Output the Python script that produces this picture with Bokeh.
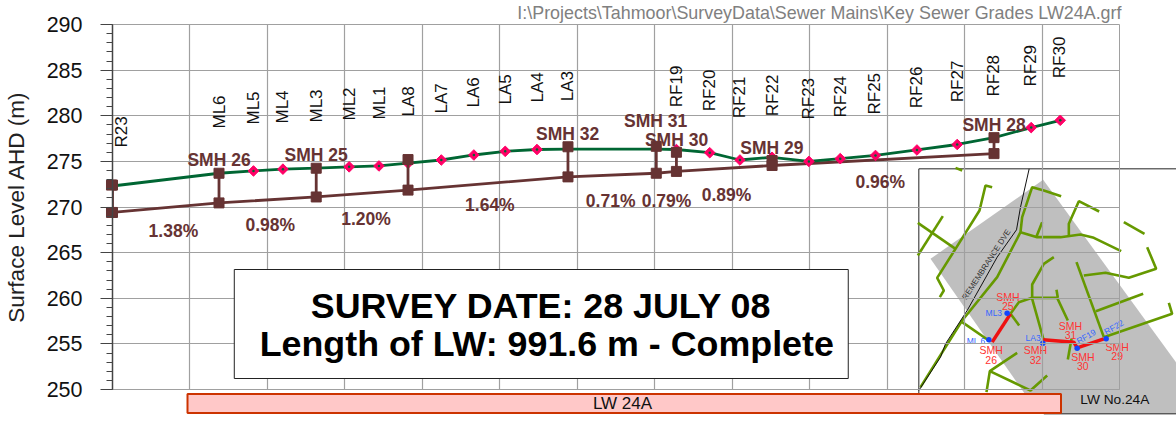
from math import pi
from bokeh.plotting import figure
from bokeh.embed import file_html
from bokeh.resources import INLINE
from bokeh.core.properties import value
from bokeh.models import Range1d, FixedTicker, Label

FONT = "Liberation Sans"
BROWN = "#663333"
GREEN = "#006633"
PINK = "#ff0066"
GRID = "#a0a0a0"

# Survey line (chainage m, level m AHD)
surface_chain = [0, 275, 364, 440, 526, 611, 688, 763, 849, 933, 1014, 1096, 1176, 1404, 1456,
                 1542, 1620, 1703, 1798, 1879, 1970, 2077, 2181, 2276, 2372, 2447]
surface_level = [272.3, 273.7, 273.95, 274.15, 274.25, 274.4, 274.5, 274.8, 275.15, 275.7, 276.1, 276.3,
                 276.35, 276.35, 276.3, 275.95, 275.15, 275.45, 275.0, 275.3, 275.65, 276.25, 276.85,
                 277.6, 278.7, 279.5]
peg_chain = [364, 440, 611, 688, 763, 849, 933, 1014, 1096, 1456, 1542, 1620, 1703, 1798, 1879, 1970,
             2077, 2181, 2372, 2447]
peg_level = [273.95, 274.15, 274.4, 274.5, 274.8, 275.15, 275.7, 276.1, 276.3, 276.3, 275.95, 275.15,
             275.45, 275.0, 275.3, 275.65, 276.25, 276.85, 278.7, 279.5]
smh_chain = [0, 275, 526, 763, 1176, 1404, 1456, 1703, 2276]
smh_top = [272.4, 273.7, 274.25, 275.2, 276.6, 276.65, 276.0, 275.1, 277.6]
smh_invert = [269.4, 270.45, 271.1, 271.85, 273.3, 273.7, 273.9, 274.55, 275.85]

y_ticks = [250, 255, 260, 265, 270, 275, 280, 285, 290]
x_grid = [200, 400, 600, 800, 1000, 1200, 1400, 1600, 1800, 2000, 2200, 2400, 2600]

# Text labels
station_names = ["R23", "ML6", "ML5", "ML4", "ML3", "ML2", "ML1", "LA8", "LA7", "LA6", "LA5", "LA4", "LA3",
                 "RF19", "RF20", "RF21", "RF22", "RF23", "RF24", "RF25", "RF26", "RF27", "RF28", "RF29", "RF30"]
station_px = [120, 218, 252.5, 281.5, 315, 348, 378, 407, 440.7, 473, 504.7, 536.7, 567,
              676, 709, 739, 771.7, 807.7, 840, 874.7, 916.7, 957, 993.7, 1030.7, 1060]
station_py = [147, 128, 124, 123, 122, 120, 119, 116, 113, 107, 104, 102, 100.7,
              106.7, 110.7, 117.7, 115.7, 119, 117, 114, 107.7, 101.7, 96, 86, 77.7]
smh_names = ["SMH 26", "SMH 25", "SMH 32", "SMH 31", "SMH 30", "SMH 29", "SMH 28"]
smh_px = [217.7, 315, 567, 655, 676, 771.5, 994]
smh_py = [159.5, 154, 133, 120, 139, 147, 124]
grade_names = ["1.38%", "0.98%", "1.20%", "1.64%", "0.71%", "0.79%", "0.89%", "0.96%"]
grade_px = [172, 269, 365, 489, 610, 666, 726, 880]
grade_py = [230, 224, 218, 204, 200, 200, 194, 181]

# Inset map geometry (map units)
map_frame_x = [25, 25, 800]
map_frame_y = [760, 25, 25]
map_base_x = [400, 800]
map_base_y = [760, 760]
map_area = ([398, 800, 800, 385, 60], [58, 610, 760, 760, 295])
map_roads = [
    [(135, 22), (155, 30)],
    [(245, 80), (225, 75), (207, 150), (135, 265), (80, 352), (100, 390), (88, 410)],
    [(22, 187), (135, 265)],
    [(22, 285), (97, 167)],
    [(452, 107), (400, 90), (365, 80), (335, 170), (330, 215), (260, 350), (155, 480), (30, 680)],
    [(330, 215), (380, 230), (450, 230), (510, 222), (550, 232), (632, 272)],
    [(378, 228), (395, 185)],
    [(566, 153), (505, 122), (475, 190), (475, 225)],
    [(640, 185), (702, 220)],
    [(710, 260), (737, 325), (655, 352), (585, 337), (520, 345)],
    [(498, 305), (580, 530)],
    [(556, 452), (698, 400)],
    [(580, 530), (785, 460), (775, 427)],
    [(430, 290), (400, 310), (365, 372), (365, 415), (400, 540)],
    [(300, 460), (325, 425), (365, 412), (440, 412), (472, 480)],
    [(438, 388), (442, 412)],
    [(300, 460), (326, 495)],
    [(155, 485), (235, 540)],
    [(320, 577), (238, 632), (228, 695)],
    [(238, 632), (360, 690), (410, 645)],
    [(483, 535), (472, 597)],
]
map_street = [(356, 25), (330, 140), (318, 208), (260, 290), (170, 450), (105, 550), (90, 590), (25, 690)]
map_sewer = [[(300, 460), (245, 545)], [(398, 538), (490, 545), (500, 562), (580, 535)]]
map_pts_x = [290, 235, 397, 500, 587]
map_pts_y = [458, 538, 548, 563, 535]
map_red_text = ["SMH", "25", "SMH", "26", "SMH", "32", "SMH", "31", "SMH", "30", "SMH", "29"]
map_red_x = [292, 292, 242, 242, 375, 375, 480, 480, 517, 517, 620, 620]
map_red_y = [410, 437, 568, 598, 568, 598, 495, 523, 588, 616, 558, 586]
map_blue = [("ML3", 250, 458, 0), ("ML 6", 197, 542, 0), ("LA3", 368, 533, 0), ("RF19", 527, 528, 30),
            ("RF22", 610, 500, 30)]

# ======== back layer: inset map, panel bar, file name ========
bg = figure(width=1176, height=421, output_backend="svg", toolbar_location=None,
            x_axis_location=None, y_axis_location=None,
            x_range=Range1d(-2730, 798), y_range=Range1d(783, -480),
            min_border=0, outline_line_color=None, background_fill_color="white", border_fill_color="white")
bg.grid.visible = False
bg.extra_x_ranges = {"page": Range1d(0, 1176), "chart": Range1d(-286.1, 2745.1)}
bg.extra_y_ranges = {"page": Range1d(421, 0), "chart": Range1d(246.49, 292.63)}
bg.styles = {"position": "absolute", "left": "0px", "top": "0px", "z-index": "0"}

bg.patch(map_area[0], map_area[1], fill_color="#bfbfbf", line_color=None)
bg.line(map_frame_x, map_frame_y, line_color="#222222", line_width=1)
bg.line(map_base_x, map_base_y, line_color="#222222", line_width=1)
bg.multi_line([[q[0] for q in r] for r in map_roads], [[q[1] for q in r] for r in map_roads],
              line_color="#669900", line_width=2.6)
bg.line([q[0] for q in map_street], [q[1] for q in map_street], line_color="#111111", line_width=1)
bg.multi_line([[q[0] for q in r] for r in map_sewer], [[q[1] for q in r] for r in map_sewer],
              line_color="#ee1111", line_width=3.5)
bg.scatter(map_pts_x, map_pts_y, marker="circle", size=5.5, fill_color="#1144ff", line_color=None)
bg.text(map_red_x, map_red_y, text=map_red_text, text_font=value(FONT), text_font_size="10.5px",
        text_color="#ff3333", text_align="center", text_baseline="middle")
for (t, mx, my, ang) in map_blue:
    bg.add_layout(Label(x=mx, y=my, text=t, text_color="#3366ff", text_font=FONT, text_font_size="8.5px",
                        text_align="center", text_baseline="middle", angle=ang, angle_units="deg"))
bg.add_layout(Label(x=228, y=312, text="REMEMBRANCE DVE", text_color="#333333", text_font=FONT,
                    text_font_size="8px", text_align="center", text_baseline="middle", angle=57,
                    angle_units="deg"))
bg.add_layout(Label(x=613, y=718, text="LW No.24A", text_color="#111111", text_font=FONT,
                    text_font_size="13.7px", text_align="center", text_baseline="middle"))

PB = dict(x_range_name="page", y_range_name="page")
bg.quad(left=[187], right=[1060.5], top=[393.5], bottom=[412.5], fill_color="#ffc8c8",
        line_color="#cc3300", line_width=2, **PB)
bg.text([622], [403], text=["LW 24A"], text_font=value(FONT), text_font_size="17px", text_color="#111111",
        text_align="center", text_baseline="middle", **PB)
bg.text([1121], [12], text=["I:\\Projects\\Tahmoor\\SurveyData\\Sewer Mains\\Key Sewer Grades LW24A.grf"],
        text_font=value(FONT), text_font_size="17.9px", text_color="#808080", text_align="right",
        text_baseline="middle", **PB)
# the start manhole straddles the axis, so its squares are drawn here, free of the chart's frame
bg.scatter(smh_chain[:1], smh_top[:1], marker="square", size=10, fill_color=BROWN, line_color=BROWN,
           x_range_name="chart", y_range_name="chart")
bg.scatter(smh_chain[:1], smh_invert[:1], marker="square", size=10, fill_color=BROWN, line_color=BROWN,
           x_range_name="chart", y_range_name="chart")

# ======== front layer: the chart itself ========
p = figure(width=1176, height=421, output_backend="svg", toolbar_location=None,
           x_range=Range1d(0, 2600), y_range=Range1d(250, 290),
           min_border_left=110, min_border_right=57, min_border_top=24, min_border_bottom=32,
           background_fill_color=None, border_fill_color=None)
p.styles = {"position": "absolute", "left": "0px", "top": "0px", "z-index": "1"}
p.outline_line_color = GRID
p.outline_line_width = 1
p.extra_x_ranges = {"page": Range1d(111, 1119.7)}
p.extra_y_ranges = {"page": Range1d(389, 24)}

ya = p.yaxis[0]
ya.ticker = FixedTicker(ticks=y_ticks, minor_ticks=[v for v in range(250, 291)])
ya.axis_label = "Surface Level AHD (m)"
ya.axis_label_text_font = FONT
ya.axis_label_text_font_style = "normal"
ya.axis_label_text_font_size = "22.5px"
ya.axis_label_text_color = "#222222"
ya.axis_label_standoff = 15
ya.major_label_text_font = FONT
ya.major_label_text_font_size = "21.5px"
ya.major_label_text_color = "#111111"
ya.major_label_standoff = 18
ya.major_tick_out = 12
ya.major_tick_in = 0
ya.minor_tick_out = 6
ya.minor_tick_in = 0
ya.major_tick_line_color = "#444444"
ya.minor_tick_line_color = "#444444"
ya.axis_line_color = "#444444"
ya.axis_line_width = 1.5

xa = p.xaxis[0]
xa.ticker = FixedTicker(ticks=x_grid)
xa.major_label_text_color = None
xa.major_label_text_font_size = "1px"
xa.major_label_standoff = 0
xa.major_tick_line_color = None
xa.minor_tick_line_color = None
xa.axis_line_color = GRID

p.ygrid[0].ticker = FixedTicker(ticks=y_ticks)
p.xgrid[0].ticker = FixedTicker(ticks=x_grid)
for g in (p.xgrid[0], p.ygrid[0]):
    g.grid_line_color = GRID
    g.grid_line_width = 1.2

p.line(smh_chain, smh_invert, line_color=BROWN, line_width=2.8)
p.line(surface_chain, surface_level, line_color=GREEN, line_width=2.8)
p.scatter(peg_chain, peg_level, marker="square", angle=pi / 4, size=7.5, fill_color=PINK, line_color=PINK)
p.scatter(peg_chain, peg_level, marker="circle", size=2.5, fill_color=GREEN, line_color=None)
p.segment(smh_chain, smh_top, smh_chain, smh_invert, line_color=BROWN, line_width=2.8)
p.scatter(smh_chain, smh_top, marker="square", size=10, fill_color=BROWN, line_color=BROWN)
p.scatter(smh_chain, smh_invert, marker="square", size=10, fill_color=BROWN, line_color=BROWN)

PG = dict(x_range_name="page", y_range_name="page")
p.text(station_px, station_py, text=station_names, angle=pi / 2, text_font=value(FONT),
       text_font_size="17px", text_color="#111111", text_align="left", text_baseline="middle", **PG)
p.text(smh_px, smh_py, text=smh_names, text_font=value(FONT), text_font_style="bold",
       text_font_size="17.5px", text_color=BROWN, text_align="center", text_baseline="middle", **PG)
p.text(grade_px, grade_py, text=grade_names, text_font=value(FONT), text_font_style="bold",
       text_font_size="17.5px", text_color=BROWN, text_align="center", text_baseline="middle", **PG)

p.quad(left=[233], right=[848], top=[269], bottom=[378], fill_color="white", line_color="#222222",
       line_width=1, **PG)
p.text([540.5, 546], [305, 343],
       text=["SURVEY DATE: 28 JULY 08", "Length of LW: 991.6 m - Complete"],
       text_font=value(FONT), text_font_style="bold", text_font_size="35.8px", text_color="black",
       text_align="center", text_baseline="middle", **PG)

open("out.html", "w").write(file_html([bg, p], INLINE))
